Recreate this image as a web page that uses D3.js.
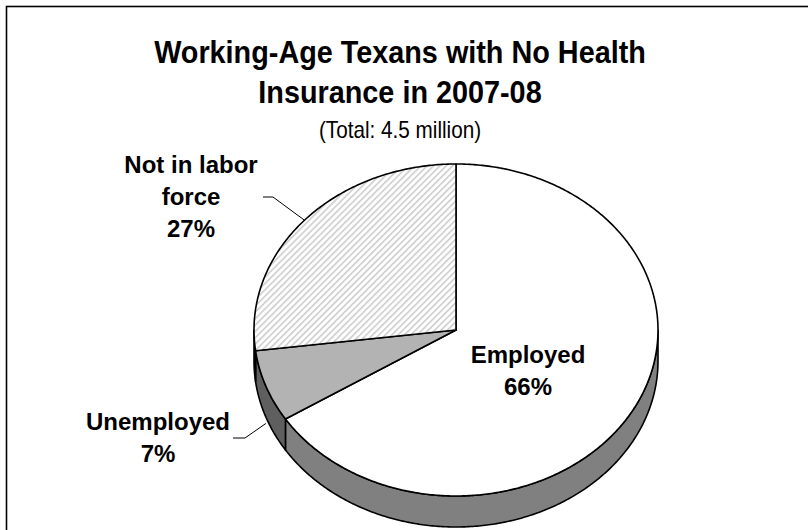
<!DOCTYPE html>
<html lang="en">
<head>
  <meta charset="UTF-8">
  <title>Working-Age Texans with No Health Insurance</title>
  <script src="https://d3js.org/d3.v7.min.js"></script>
  <style>
    body { margin: 0; background: #fff; }
    svg { font-family: Arial, "Liberation Sans", sans-serif; display: block; }
    .title { font-weight: bold; font-size: 32px; }
    .subtitle { font-size: 23px; }
    .label { font-weight: bold; font-size: 24px; }
  </style>
</head>
<body>
  <svg width="808" height="530"></svg>

  <script>
    // data
    const categories = ["Employed", "Unemployed", "Not in labor force"];
    const shares = [66, 7, 27];
    const labelLines = [["Employed", "66%"], ["Unemployed", "7%"], ["Not in labor", "force", "27%"]];

    const svg = d3.select("svg");

    // pie geometry (tilted ellipse)
    const cx = 456, cy = 330, rx = 202, ry = 166, depth = 31;

    const topFill = ["#ffffff", "#b3b3b3", "url(#hatch)"];
    const sideFill = ["#808080", "#5f5f5f", "#9a9a9a"];

    const defs = svg.append("defs");
    const pat = defs.append("pattern")
      .attr("id", "hatch")
      .attr("patternUnits", "userSpaceOnUse")
      .attr("width", 4.5).attr("height", 4.5)
      .attr("patternTransform", "rotate(45)");
    pat.append("rect").attr("width", 4.5).attr("height", 4.5).attr("fill", "#fff");
    pat.append("rect").attr("x", 0).attr("width", 1.6).attr("height", 4.5).attr("fill", "#cdcdcd");

    // frame
    svg.append("rect")
      .attr("x", 6.5).attr("y", 6.5)
      .attr("width", 830).attr("height", 600)
      .attr("fill", "#fff")
      .attr("stroke", "#000").attr("stroke-width", 1.6);

    // titles (slightly condensed like the original)
    const tx = 400;
    const titleG = svg.append("g").attr("transform", `translate(${tx},0) scale(0.9,1)`);
    titleG.append("text").attr("class", "title")
      .attr("x", 0).attr("y", 63).attr("text-anchor", "middle")
      .text("Working-Age Texans with No Health");
    titleG.append("text").attr("class", "title")
      .attr("x", 0).attr("y", 103).attr("text-anchor", "middle")
      .text("Insurance in 2007-08");
    titleG.append("text").attr("class", "subtitle")
      .attr("x", 0).attr("y", 138).attr("text-anchor", "middle")
      .text("(Total: 4.5 million)");

    const pie = d3.pie().sort(null).value(d => d)
      .startAngle(0).endAngle(2 * Math.PI);
    const arcs = pie(shares);

    const pt = (a, dy = 0) => [cx + rx * Math.sin(a), cy - ry * Math.cos(a) + dy];
    const sample = (a0, a1, dy) => {
      const n = Math.max(2, Math.ceil(Math.abs(a1 - a0) / 0.01));
      return d3.range(n + 1).map(i => pt(a0 + (a1 - a0) * i / n, dy));
    };
    const line = d3.line();

    // side walls (front half only: angles pi/2 .. 3pi/2)
    const sideG = svg.append("g");
    arcs.forEach((d, i) => {
      const a0 = Math.max(d.startAngle, Math.PI / 2);
      const a1 = Math.min(d.endAngle, 3 * Math.PI / 2);
      if (a1 <= a0) return;
      const pts = sample(a0, a1, 0).concat(sample(a1, a0, depth));
      sideG.append("path")
        .attr("d", line(pts) + "Z")
        .attr("fill", sideFill[i])
        .attr("stroke", "#000").attr("stroke-width", 1.6)
        .attr("stroke-linejoin", "round");
    });

    // top faces
    const faceG = svg.append("g");
    arcs.forEach((d, i) => {
      const pts = [[cx, cy]].concat(sample(d.startAngle, d.endAngle, 0));
      faceG.append("path")
        .attr("d", line(pts) + "Z")
        .attr("fill", topFill[i])
        .attr("stroke", "#000").attr("stroke-width", 1.6)
        .attr("stroke-linejoin", "round");
    });

    // labels
    const labelPos = [
      { x: 528, y: 363, lead: null },
      { x: 158, y: 430, lead: { elbowY: 438, from: 233, to: 245, dy: depth * 1.2 } },
      { x: 191, y: 173, lead: { elbowY: 197, from: 263, to: 273, dy: 0 } }
    ];
    const lh = 32;
    arcs.forEach((d, i) => {
      const p = labelPos[i];
      const t = svg.append("text").attr("class", "label").attr("text-anchor", "middle");
      labelLines[i].forEach((s, j) => {
        t.append("tspan").attr("x", p.x).attr("y", p.y + j * lh).text(s);
      });
      if (p.lead) {
        const end = pt((d.startAngle + d.endAngle) / 2, p.lead.dy);
        svg.append("path")
          .attr("d", line([[p.lead.from, p.lead.elbowY], [p.lead.to, p.lead.elbowY], end]))
          .attr("fill", "none").attr("stroke", "#000").attr("stroke-width", 1);
      }
    });
  </script>
</body>
</html>
